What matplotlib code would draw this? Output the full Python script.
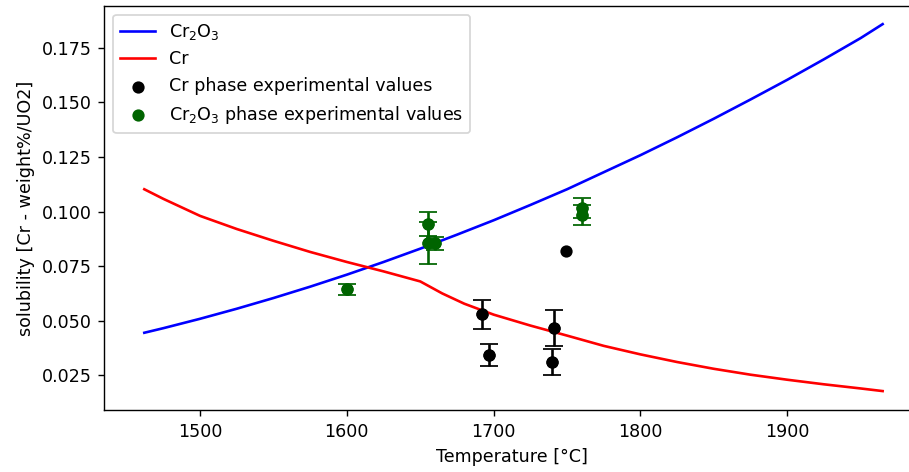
import numpy as np
import matplotlib
matplotlib.use("Agg")
import matplotlib.pyplot as plt

# model curves
temp_cr2o3 = [1462, 1475, 1500, 1525, 1550, 1575, 1600, 1625, 1650, 1675, 1700, 1725, 1750,
              1775, 1800, 1825, 1850, 1875, 1900, 1925, 1950, 1965]
sol_cr2o3 = [0.0445, 0.0466, 0.0509, 0.0555, 0.0604, 0.0656, 0.0711, 0.0769, 0.0830, 0.0894, 0.0960,
             0.1030, 0.1102, 0.1180, 0.1258, 0.1340, 0.1425, 0.1513, 0.1603, 0.1697, 0.1794, 0.1858]

temp_cr = [1462, 1475, 1500, 1525, 1550, 1575, 1600, 1625, 1650, 1665, 1680, 1700, 1725, 1750,
           1775, 1800, 1825, 1850, 1875, 1900, 1925, 1950, 1965]
sol_cr = [0.1102, 0.1058, 0.0980, 0.0920, 0.0866, 0.0815, 0.0769, 0.0726, 0.0680, 0.0625, 0.0578,
          0.0528, 0.0478, 0.0432, 0.0385, 0.0346, 0.0311, 0.0280, 0.0253, 0.0230, 0.0209, 0.0190, 0.0178]

# experimental values
exp_cr_temp = [1692, 1697, 1741, 1740, 1749]
exp_cr_sol = [0.0529, 0.0342, 0.0468, 0.0312, 0.082]
exp_cr_err = [0.0068, 0.005, 0.0082, 0.006, 0.0]

exp_cr2o3_temp = [1600, 1655, 1655, 1660, 1760, 1760]
exp_cr2o3_sol = [0.0645, 0.0945, 0.0855, 0.0855, 0.1015, 0.0985]
exp_cr2o3_err = [0.0025, 0.0055, 0.0095, 0.003, 0.0045, 0.0045]

fig = plt.figure(figsize=(909 / 126, 472 / 126), dpi=126)
ax = fig.add_axes([104.3 / 909, 61.7 / 472, 815.4 / 909, 404.3 / 472])

ax.plot(temp_cr2o3, sol_cr2o3, color='b', label=r'Cr$_2$O$_3$')
ax.plot(temp_cr, sol_cr, color='r', label='Cr')

ax.scatter(exp_cr_temp, exp_cr_sol, color='k', label='Cr phase experimental values')
ax.scatter(exp_cr2o3_temp, exp_cr2o3_sol, color='darkgreen', label=r'Cr$_2$O$_3$ phase experimental values')

# error bars only where an uncertainty is given
cr_t = [t for t, e in zip(exp_cr_temp, exp_cr_err) if e > 0]
cr_s = [s for s, e in zip(exp_cr_sol, exp_cr_err) if e > 0]
cr_e = [e for e in exp_cr_err if e > 0]
ax.errorbar(cr_t, cr_s, yerr=cr_e, fmt='o', color='k', capsize=5)
ax.errorbar(exp_cr2o3_temp, exp_cr2o3_sol, yerr=exp_cr2o3_err, fmt='o', color='darkgreen', capsize=5)

ax.set_xlim(1434.75, 1990.25)
ax.set_ylim(0.009, 0.1941)
ax.set_xticks([1500, 1600, 1700, 1800, 1900])
ax.set_xlabel('Temperature [°C]')
ax.set_ylabel('solubility [Cr - weight%/UO2]')
ax.legend(loc='upper left')

fig.savefig('out.png', dpi=126)
